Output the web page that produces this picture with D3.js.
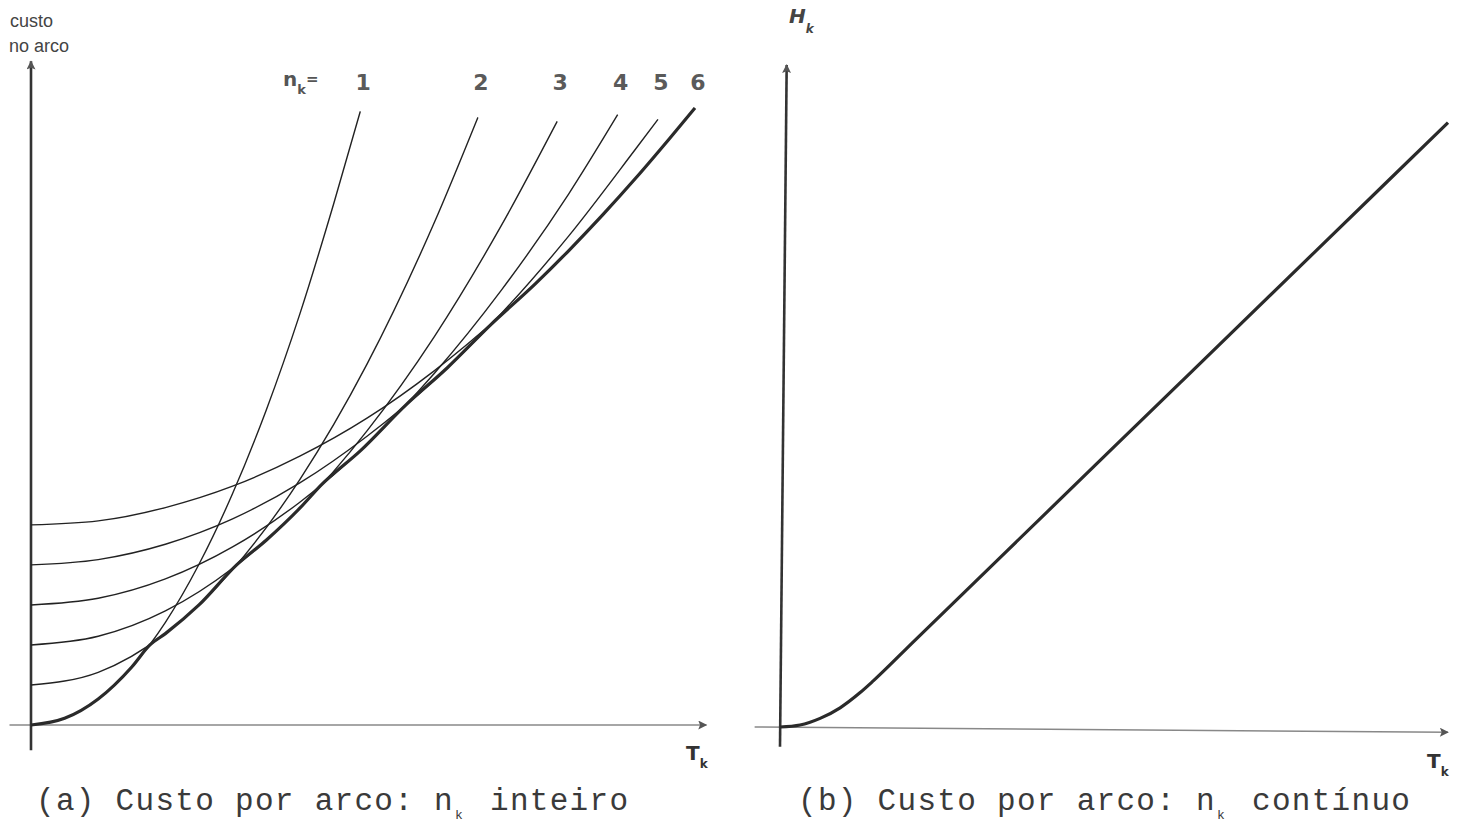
<!DOCTYPE html>
<html>
<head>
<meta charset="utf-8">
<title>custo por arco</title>
<script src="https://d3js.org/d3.v7.min.js"></script>
<style>
  body { margin: 0; background: #fff; }
  svg { display: block; }
</style>
</head>
<body>
<div id="wrapper"></div>
<script>
// values (T in 0..10, cost in 0..10)
const curveLabels = ["1", "2", "3", "4", "5", "6"];

const curve1 = [[0, 0], [0.5, 0.1], [1, 0.39], [1.5, 0.87], [2, 1.54], [2.5, 2.41], [3, 3.47], [3.5, 4.72], [4, 6.16], [4.5, 7.8], [4.9, 9.2]];
const curve2 = [[0, 0.6], [1, 0.79], [2, 1.37], [3, 2.33], [4, 3.68], [5, 5.41], [6, 7.53], [6.65, 9.11]];
const curve3 = [[0, 1.2], [1, 1.33], [2, 1.71], [3, 2.35], [4, 3.25], [5, 4.41], [6, 5.82], [7, 7.49], [7.83, 9.05]];
const curve4 = [[0, 1.8], [1, 1.9], [2, 2.19], [3, 2.67], [4, 3.34], [5, 4.21], [6, 5.27], [7, 6.52], [8, 7.96], [8.73, 9.15]];
const curve5 = [[0, 2.4], [1, 2.48], [2, 2.71], [3, 3.09], [4, 3.63], [5, 4.33], [6, 5.17], [7, 6.17], [8, 7.33], [9, 8.64], [9.33, 9.08]];
const curve6 = [[0, 3.0], [1, 3.06], [2, 3.26], [3, 3.58], [4, 4.03], [5, 4.6], [6, 5.31], [7, 6.15], [8, 7.11], [9, 8.2], [9.88, 9.25]];

// lower envelope (thick line)
const envelope = [[0, 0], [0.5, 0.1], [1, 0.39], [1.5, 0.87], [1.77, 1.2], [2, 1.37], [2.5, 1.8], [3.06, 2.4], [3.5, 2.77], [4, 3.25], [4.32, 3.6], [4.9, 4.11], [5.58, 4.8], [6.2, 5.36], [6.84, 6.0], [7.5, 6.61], [8, 7.11], [8.5, 7.64], [9, 8.2], [9.5, 8.79], [9.88, 9.25]];

// panel (b): continuous n
const hk = [[0, 0], [0.3, 0.03], [0.6, 0.13], [0.9, 0.29], [1.2, 0.52], [1.4, 0.7], [2, 1.29], [4, 3.25], [6, 5.21], [8, 7.17], [10, 9.13]];

const curves = [curve1, curve2, curve3, curve4, curve5, curve6];

const width = 1458, height = 835;

const svg = d3.select("#wrapper").append("svg")
  .attr("width", width).attr("height", height);

svg.append("defs").append("marker")
  .attr("id", "arrow")
  .attr("viewBox", "0 0 10 10")
  .attr("refX", 9).attr("refY", 5)
  .attr("markerWidth", 14).attr("markerHeight", 9)
  .attr("markerUnits", "userSpaceOnUse")
  .attr("orient", "auto")
  .append("path")
  .attr("d", "M0,0 L10,5 L0,10 L2,5 Z")
  .attr("fill", "#555");

// ---- panel (a) ----
const xA = d3.scaleLinear().domain([0, 10]).range([31, 703]);
const yA = d3.scaleLinear().domain([0, 10]).range([725, 58]);

const lineA = d3.line().x(d => xA(d[0])).y(d => yA(d[1])).curve(d3.curveMonotoneX);

const panelA = svg.append("g");

panelA.append("line")
  .attr("x1", xA(-0.32)).attr("x2", xA(10.05))
  .attr("y1", yA(0)).attr("y2", yA(0))
  .attr("stroke", "#888").attr("stroke-width", 1.6)
  .attr("marker-end", "url(#arrow)");

panelA.append("line")
  .attr("x1", xA(0)).attr("x2", xA(0))
  .attr("y1", yA(-0.38)).attr("y2", yA(9.95))
  .attr("stroke", "#333").attr("stroke-width", 2.6)
  .attr("marker-end", "url(#arrow)");

panelA.selectAll(".curve").data(curves).join("path")
  .attr("class", "curve")
  .attr("d", lineA)
  .attr("fill", "none")
  .attr("stroke", "#222")
  .attr("stroke-width", 1.4);

panelA.append("path")
  .attr("d", lineA(envelope))
  .attr("fill", "none")
  .attr("stroke", "#2a2a2a")
  .attr("stroke-width", 3.2);

panelA.selectAll(".clabel").data(curves).join("text")
  .attr("class", "clabel")
  .attr("x", d => xA(d[d.length - 1][0]) + 3)
  .attr("y", 90)
  .attr("text-anchor", "middle")
  .style("font-family", "DejaVu Sans, sans-serif")
  .style("font-weight", "bold")
  .style("font-size", "22px")
  .style("fill", "#5a5a5a")
  .text((d, i) => curveLabels[i]);

const nk = panelA.append("text")
  .attr("x", 283).attr("y", 86)
  .style("font-family", "DejaVu Sans, sans-serif")
  .style("font-weight", "bold")
  .style("font-size", "20px")
  .style("fill", "#555");
nk.append("tspan").text("n");
nk.append("tspan").attr("dy", 8).style("font-size", "13px").text("k");
nk.append("tspan").attr("dy", -10).style("font-size", "15px").text("=");

panelA.append("text").attr("x", 10).attr("y", 27)
  .style("font-family", "Liberation Sans, sans-serif")
  .style("font-size", "18px").style("fill", "#444").text("custo");
panelA.append("text").attr("x", 9).attr("y", 52)
  .style("font-family", "Liberation Sans, sans-serif")
  .style("font-size", "18px").style("fill", "#444").text("no arco");

const tkA = panelA.append("text")
  .attr("x", 686).attr("y", 760)
  .style("font-family", "DejaVu Sans, sans-serif")
  .style("font-weight", "bold")
  .style("font-size", "20px")
  .style("fill", "#333");
tkA.append("tspan").text("T");
tkA.append("tspan").attr("dy", 8).style("font-size", "12px").text("k");

// ---- panel (b) ----
const xB = d3.scaleLinear().domain([0, 10]).range([780, 1448]);
const yB = d3.scaleLinear().domain([0, 10]).range([727, 65]);

const lineB = d3.line().x(d => xB(d[0])).y(d => yB(d[1])).curve(d3.curveMonotoneX);

const panelB = svg.append("g");

panelB.append("line")
  .attr("x1", xB(-0.38)).attr("x2", xB(10.0))
  .attr("y1", yB(0)).attr("y2", yB(-0.08))
  .attr("stroke", "#888").attr("stroke-width", 1.6)
  .attr("marker-end", "url(#arrow)");

panelB.append("line")
  .attr("x1", xB(0)).attr("x2", xB(0.1))
  .attr("y1", yB(-0.3)).attr("y2", yB(10))
  .attr("stroke", "#333").attr("stroke-width", 2.6)
  .attr("marker-end", "url(#arrow)");

panelB.append("path")
  .attr("d", lineB(hk))
  .attr("fill", "none")
  .attr("stroke", "#2a2a2a")
  .attr("stroke-width", 3.2);

const hkLabel = panelB.append("text")
  .attr("x", 789).attr("y", 23)
  .style("font-family", "DejaVu Sans, sans-serif")
  .style("font-weight", "bold")
  .style("font-style", "italic")
  .style("font-size", "20px")
  .style("fill", "#444");
hkLabel.append("tspan").text("H");
hkLabel.append("tspan").attr("dy", 10).style("font-size", "12px").text("k");

const tkB = panelB.append("text")
  .attr("x", 1427).attr("y", 768)
  .style("font-family", "DejaVu Sans, sans-serif")
  .style("font-weight", "bold")
  .style("font-size", "20px")
  .style("fill", "#333");
tkB.append("tspan").text("T");
tkB.append("tspan").attr("dy", 8).style("font-size", "12px").text("k");

// ---- captions ----
function caption(x, y, before, after) {
  const t = svg.append("text")
    .attr("x", x).attr("y", y)
    .style("font-family", "Liberation Mono, monospace")
    .style("font-size", "31px")
    .style("letter-spacing", "1.3px")
    .style("fill", "#3a3a3a");
  t.append("tspan").text(before);
  t.append("tspan").attr("dy", 9).attr("dx", 1)
    .style("font-size", "13px").style("fill", "#3a3a3a").text("k");
  t.append("tspan").attr("dy", -9).attr("dx", 6).text(" " + after);
}
caption(36, 810, "(a) Custo por arco: n", "inteiro");
caption(798, 810, "(b) Custo por arco: n", "contínuo");
</script>
</body>
</html>
